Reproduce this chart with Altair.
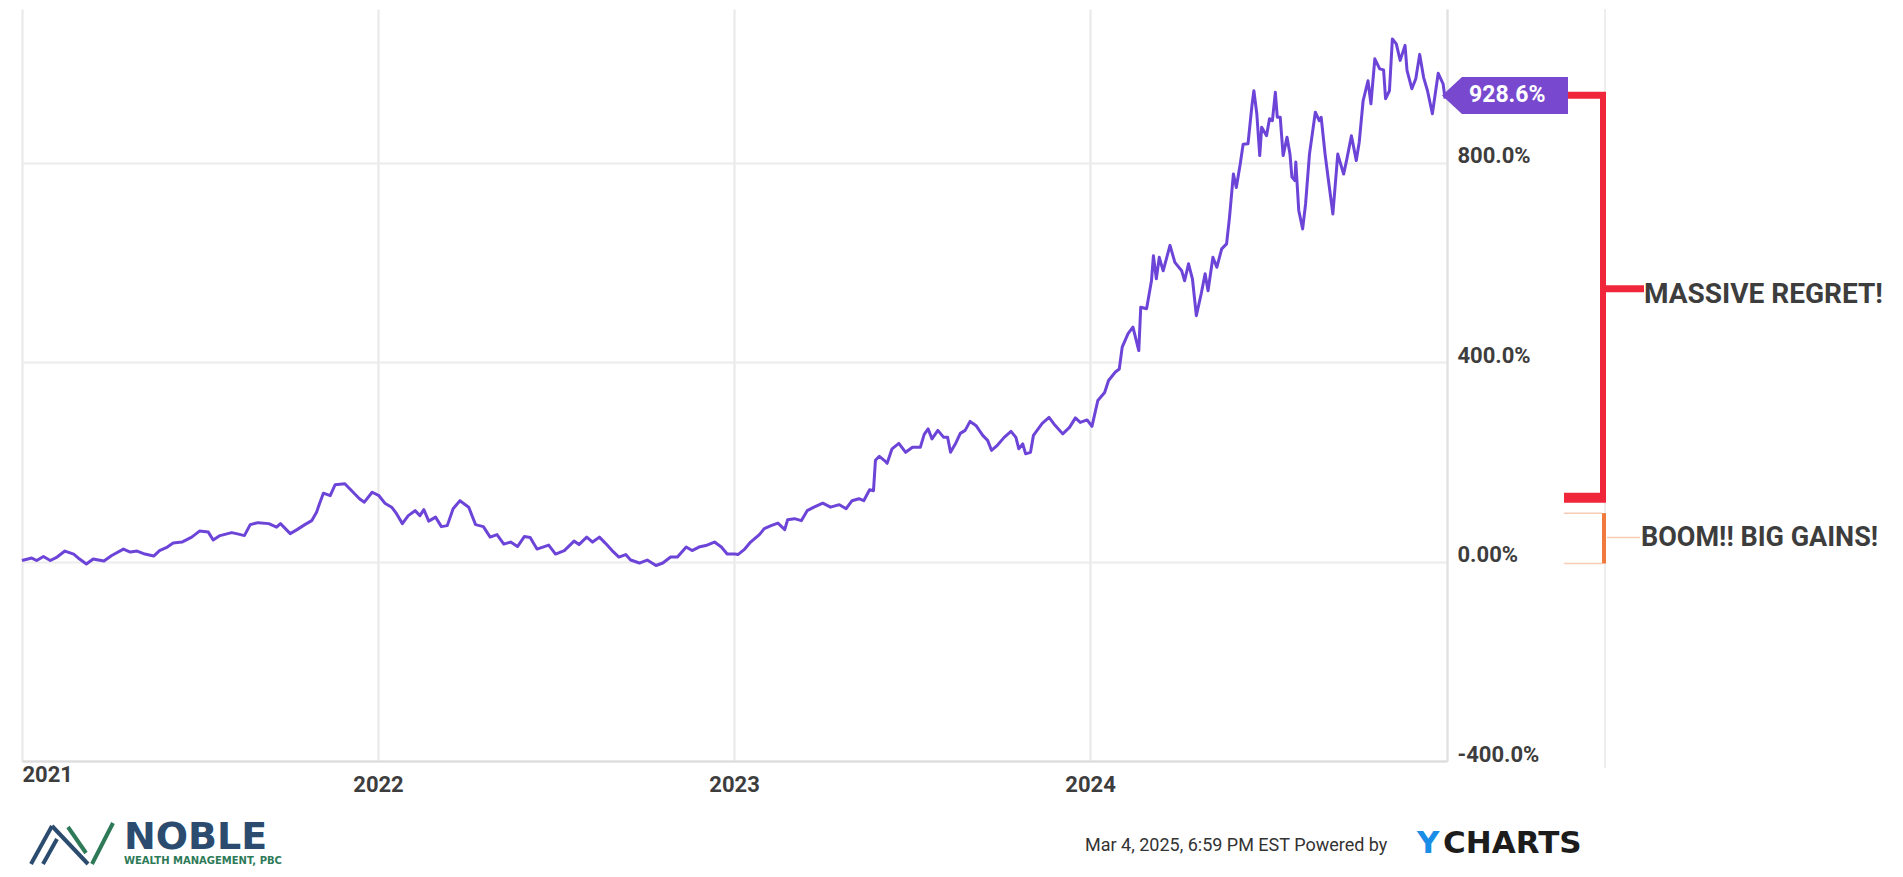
import altair as alt
import pandas as pd

# ---------------- data ----------------
dates_2021 = ["2021-01-01","2021-01-11","2021-01-16","2021-01-23","2021-01-30","2021-02-06","2021-02-14","2021-02-23",
              "2021-03-01","2021-03-08","2021-03-15","2021-03-26","2021-04-03","2021-04-15","2021-04-22","2021-04-29",
              "2021-05-07","2021-05-16","2021-05-22","2021-05-30","2021-06-05","2021-06-14","2021-06-24","2021-07-02",
              "2021-07-11","2021-07-16","2021-07-23","2021-08-04","2021-08-11","2021-08-17","2021-08-23","2021-08-31",
              "2021-09-11","2021-09-19","2021-09-23","2021-10-03","2021-10-10","2021-10-18","2021-10-25","2021-10-30",
              "2021-11-02","2021-11-06","2021-11-13","2021-11-18","2021-11-28","2021-12-05","2021-12-13","2021-12-18",
              "2021-12-26"]
vals_2021 = [2, 7, 2, 10, 2, 9, 21, 15, 5, -5, 5, 1, 12, 25, 19, 21, 15, 11, 22, 29, 37, 39, 49, 61, 59,
             43, 52, 58, 55, 52, 74, 78, 76, 69, 76, 56, 64, 74, 82, 99, 116, 137, 132, 154, 156, 142, 126, 119, 139]

dates_2022 = ["2022-01-02","2022-01-08","2022-01-15","2022-01-20","2022-01-26","2022-02-01","2022-02-08","2022-02-13",
              "2022-02-17","2022-02-22","2022-03-01","2022-03-07","2022-03-13","2022-03-19","2022-03-26","2022-04-04",
              "2022-04-11","2022-04-19","2022-04-26","2022-05-03","2022-05-10","2022-05-17","2022-05-24","2022-05-31",
              "2022-06-06","2022-06-13","2022-06-25","2022-07-02","2022-07-11","2022-07-21","2022-07-26","2022-08-03",
              "2022-08-09","2022-08-16","2022-08-22","2022-08-29","2022-09-05","2022-09-12","2022-09-17","2022-09-26",
              "2022-10-04","2022-10-13","2022-10-20","2022-10-28","2022-11-04","2022-11-13","2022-11-19","2022-11-26",
              "2022-12-03","2022-12-12","2022-12-19","2022-12-25"]
vals_2022 = [132, 117, 109, 96, 76, 92, 102, 92, 104, 81, 89, 70, 72, 106, 122, 109, 74, 70, 49, 54,
             35, 39, 30, 50, 48, 25, 33, 15, 22, 41, 34, 49, 39, 49, 37, 22, 9, 14, 3, -3,
             3, -8, -3, 9, 9, 29, 22, 29, 32, 39, 29, 15]

dates_2023 = ["2023-01-02","2023-01-05","2023-01-12","2023-01-18","2023-01-27","2023-02-01","2023-02-08","2023-02-15",
              "2023-02-22","2023-02-25","2023-03-04","2023-03-11","2023-03-17","2023-03-24","2023-04-02","2023-04-10",
              "2023-04-19","2023-04-26","2023-05-02","2023-05-09","2023-05-14","2023-05-20","2023-05-24","2023-05-26",
              "2023-05-30","2023-06-04","2023-06-07","2023-06-12","2023-06-19","2023-06-26","2023-07-03","2023-07-11",
              "2023-07-15","2023-07-19","2023-07-23","2023-07-29","2023-08-04","2023-08-08","2023-08-11","2023-08-16",
              "2023-08-21","2023-08-26","2023-08-31","2023-09-06","2023-09-13","2023-09-18","2023-09-22","2023-09-28",
              "2023-10-05","2023-10-12","2023-10-17","2023-10-20","2023-10-24","2023-10-27","2023-11-01","2023-11-04",
              "2023-11-13","2023-11-20","2023-11-25","2023-12-04","2023-12-11","2023-12-17","2023-12-22","2023-12-29"]
vals_2023 = [15, 14, 25, 39, 54, 66, 72, 77, 64, 84, 86, 82, 102, 109, 117, 109, 114, 106, 122, 126,
             122, 144, 142, 203, 211, 203, 197, 226, 237, 219, 229, 229, 255, 266, 246, 263, 249, 249, 219, 236,
             257, 263, 281, 273, 253, 243, 223, 233, 249, 261, 249, 226, 236, 216, 219, 253, 277, 289, 276, 256,
             269, 288, 279, 284]

dates_2024 = ["2024-01-03","2024-01-09","2024-01-16","2024-01-20","2024-01-27","2024-01-31","2024-02-03","2024-02-09",
              "2024-02-14","2024-02-20","2024-02-22","2024-02-28","2024-03-04","2024-03-06","2024-03-09","2024-03-12",
              "2024-03-16","2024-03-23","2024-03-28","2024-04-04","2024-04-07","2024-04-11","2024-04-15","2024-04-19",
              "2024-04-24","2024-04-28","2024-05-01","2024-05-06","2024-05-10","2024-05-15","2024-05-20","2024-05-23",
              "2024-05-27","2024-05-30","2024-06-03","2024-06-06","2024-06-11","2024-06-15","2024-06-17","2024-06-20",
              "2024-06-23","2024-06-25","2024-06-30","2024-07-03","2024-07-06","2024-07-09","2024-07-11","2024-07-14",
              "2024-07-17","2024-07-21","2024-07-24","2024-07-26","2024-07-29","2024-07-30","2024-08-02","2024-08-06",
              "2024-08-09","2024-08-13","2024-08-19","2024-08-23","2024-08-25","2024-08-29","2024-09-01","2024-09-06",
              "2024-09-11","2024-09-17","2024-09-20","2024-09-25","2024-09-30","2024-10-03","2024-10-07","2024-10-12",
              "2024-10-15","2024-10-19","2024-10-24","2024-10-28","2024-10-30","2024-11-03","2024-11-06","2024-11-10",
              "2024-11-14","2024-11-19","2024-11-21","2024-11-26","2024-11-30","2024-12-04","2024-12-08","2024-12-12",
              "2024-12-17","2024-12-23","2024-12-28","2024-12-30"]
vals_2024 = [271, 323, 339, 363, 380, 386, 430, 457, 470, 423, 510, 507, 563, 613, 567, 610, 583, 634, 600, 583,
             563, 597, 567, 493, 537, 577, 543, 610, 590, 627, 637, 690, 777, 750, 797, 837, 838, 914, 944, 898,
             814, 871, 854, 888, 884, 941, 891, 891, 814, 851, 817, 771, 764, 801, 704, 667, 717, 817, 901, 884,
             891, 817, 771, 697, 817, 777, 804, 854, 804, 841, 924, 964, 918, 1008, 988, 986, 928, 944, 1048, 1038,
             1005, 1035, 985, 948, 968, 1017, 971, 944, 898, 979, 958, 928.6]

y_ticks = [-400, 0, 400, 800]
year_ticks = [2021, 2022, 2023, 2024, 2025]
last_value = [928.6]
last_label = ["928.6%"]

regret_top = [935]
regret_bottom = [128]
regret_mid = [547]
regret_label = ["MASSIVE REGRET!"]
gains_top = [97]
gains_bottom = [-4]
gains_mid = [48]
gains_label = ["BOOM!! BIG GAINS!"]

footer_text = ["Mar 4, 2025, 6:59 PM EST Powered by"]
brand_y = ["Y"]
brand_rest = ["CHARTS"]
logo_name = ["NOBLE"]
logo_sub = ["WEALTH MANAGEMENT, PBC"]

# ---------------- build ----------------
df = pd.DataFrame({
    "date": dates_2021 + dates_2022 + dates_2023 + dates_2024,
    "ret": vals_2021 + vals_2022 + vals_2023 + vals_2024,
})

NARROW = "Roboto, sans-serif"
TXT = "#3d3d3d"
PURPLE = "#6d44d8"
RED = "#f0263b"
ORANGE = "#f07a3e"
PALE = "#f8cbb5"

W, H = 1425, 752
yscale = alt.Scale(domain=[-400, 1108], nice=False, zero=False)

x_axis = alt.Axis(
    values=[alt.DateTime(year=y, month=1, date=1, utc=True) for y in year_ticks],
    labelExpr="utcyear(datum.value) >= 2025 ? '' : utcFormat(datum.value, '%Y')",
    labelAlign={"condition": {"test": "utcyear(datum.value) == 2021", "value": "left"}, "value": "center"},
    labelPadding={"condition": {"test": "utcyear(datum.value) == 2021", "value": 3}, "value": 13},
    labelFont=NARROW, labelFontSize=22, labelFontWeight="bold", labelColor=TXT,
    labelFlush=False, labelOverlap=False, ticks=False,
    domainColor="#dcdcdc", domainWidth=2, grid=True, gridColor="#e8e8e8", gridWidth=2,
)
y_axis = alt.Axis(
    orient="right", values=y_ticks,
    labelExpr="datum.value == 0 ? '0.00%' : (datum.value < 0 ? '-' : '') + format(abs(datum.value), '.1f') + '%'",
    labelFont=NARROW, labelFontSize=22, labelFontWeight="bold", labelColor=TXT,
    labelPadding=10, labelBaseline="alphabetic", labelAlign="left", ticks=False,
    domainColor="#e2e2e2", domainWidth=2, grid=True, gridColor="#ececec", gridWidth=2,
)

line = alt.Chart(df).mark_line(color=PURPLE, strokeWidth=3, strokeJoin="round").encode(
    x=alt.X("date:T", scale=alt.Scale(type="utc", domain=[
        alt.DateTime(year=2021, month=1, date=1, utc=True),
        alt.DateTime(year=2025, month=1, date=1, utc=True)]), axis=x_axis, title=None),
    y=alt.Y("ret:Q", scale=yscale, axis=y_axis, title=None),
)

def yq():
    return alt.Y("ret:Q", scale=yscale, title=None)

sep = alt.Chart(pd.DataFrame({"k": [0]})).mark_rule(color="#eeeeee", strokeWidth=2).encode(
    x=alt.value(1583), y=alt.value(0), y2=alt.value(759))

tag_path = "M-1,-0.048 L-0.683,-0.342 L1,-0.342 L1,0.246 L-0.683,0.246 Z"
tag = alt.Chart(pd.DataFrame({"ret": last_value})).mark_point(
    shape=tag_path, filled=True, size=15876, color="#7849cf", opacity=1, strokeWidth=0
).encode(x=alt.value(1483), y=yq())
tag_text = alt.Chart(pd.DataFrame({"ret": last_value, "t": last_label})).mark_text(
    align="left", baseline="middle", dy=-3, font=NARROW, fontSize=23, fontWeight="bold", color="white"
).encode(x=alt.value(1447), y=yq(), text="t:N")

def hrule(vals, x1, x2, color, w):
    return alt.Chart(pd.DataFrame({"ret": vals})).mark_rule(color=color, strokeWidth=w).encode(
        y=yq(), x=alt.value(x1), x2=alt.value(x2))

red_v = alt.Chart(pd.DataFrame({"ret": regret_top, "ret2": regret_bottom})).mark_rule(
    color=RED, strokeWidth=6).encode(x=alt.value(1581), y=yq(), y2="ret2:Q")
red_top = hrule(regret_top, 1546, 1584, RED, 7)
red_bot = hrule(regret_bottom, 1542, 1584, RED, 10)
red_mid = hrule(regret_mid, 1581, 1622, RED, 7)
red_text = alt.Chart(pd.DataFrame({"ret": regret_mid, "t": regret_label})).mark_text(
    align="left", baseline="middle", dy=6, font=NARROW, fontSize=28, fontWeight="bold", color=TXT
).encode(x=alt.value(1622), y=yq(), text="t:N")

or_v = alt.Chart(pd.DataFrame({"ret": gains_top, "ret2": gains_bottom})).mark_rule(
    color=ORANGE, strokeWidth=4).encode(x=alt.value(1582), y=yq(), y2="ret2:Q")
or_top = hrule(gains_top, 1542, 1580, PALE, 1.5)
or_bot = hrule(gains_bottom, 1542, 1580, PALE, 1.5)
or_mid = hrule(gains_mid, 1585, 1618, PALE, 1.5)
or_text = alt.Chart(pd.DataFrame({"ret": gains_mid, "t": gains_label})).mark_text(
    align="left", baseline="middle", font=NARROW, fontSize=27, fontWeight="bold", color=TXT
).encode(x=alt.value(1619), y=yq(), text="t:N")

def label(txt, x, y, font, size, color, weight="normal"):
    return alt.Chart(pd.DataFrame({"t": txt})).mark_text(
        align="left", baseline="alphabetic", font=font, fontSize=size, fontWeight=weight, color=color
    ).encode(x=alt.value(x), y=alt.value(y), text="t:N")

footer = label(footer_text, 1063, 842, "Roboto", 18, "#333333")
ych_y = label(brand_y, 1395, 844, "DejaVu Sans", 31, "#1a8de6", "bold")
ych_rest = label(brand_rest, 1421, 844, "DejaVu Sans", 31, "#1c1c1c", "bold")
noble = label(logo_name, 102, 840, "DejaVu Sans", 38, "#2b4c6f", "bold")
noble_sub = label(logo_sub, 102, 855, "DejaVu Sans", 10, "#2e7a58", "bold")

def stroke(x1, y1, x2, y2, color):
    return alt.Chart(pd.DataFrame({"k": [0]})).mark_rule(color=color, strokeWidth=4).encode(
        x=alt.value(x1), y=alt.value(y1), x2=alt.value(x2), y2=alt.value(y2))

BLUE_L, GREEN_L = "#2b4c6f", "#2e7a58"
logo = [
    stroke(9, 855, 30, 817, BLUE_L),
    stroke(21, 855, 35, 830, BLUE_L),
    stroke(30, 817, 66, 855, BLUE_L),
    stroke(46, 818, 64, 844, GREEN_L),
    stroke(70, 855, 91, 814, GREEN_L),
]

chart = alt.layer(
    sep, line, tag, tag_text,
    red_v, red_top, red_bot, red_mid, red_text,
    or_v, or_top, or_bot, or_mid, or_text,
    footer, ych_y, ych_rest, noble, noble_sub, *logo,
).properties(
    width=W, height=H, padding={"left": 12, "top": 0, "right": 0, "bottom": 0}, background="white"
).configure_view(stroke=None)

chart.save("out.html", embed_options={"renderer": "svg", "actions": False})
